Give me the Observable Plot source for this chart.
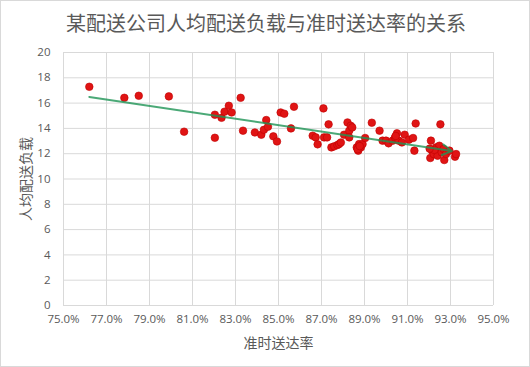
<!DOCTYPE html>
<html>
<head>
<meta charset="utf-8">
<script src="https://cdn.jsdelivr.net/npm/d3@7"></script>
<script src="https://cdn.jsdelivr.net/npm/@observablehq/plot@0.6"></script>
<style>
  html, body { margin: 0; padding: 0; background: #fff; }
  #chart { position: relative; width: 530px; height: 367px; box-sizing: border-box; border: 1px solid #d9d9d9; overflow: hidden; }
  #title { height: 41px; line-height: 44px; text-align: center; font-family: "Noto Sans CJK SC", sans-serif; font-size: 20px; color: #595959; padding-left: 2px; }
  svg { display: block; }
</style>
</head>
<body>
<div id="chart"><div id="title">某配送公司人均配送负载与准时送达率的关系</div></div>
<script>
const title = "某配送公司人均配送负载与准时送达率的关系";
const xLabel = "准时送达率";
const yLabel = "人均配送负载";
const xTicks = [75, 77, 79, 81, 83, 85, 87, 89, 91, 93, 95];
const yTicks = [0, 2, 4, 6, 8, 10, 12, 14, 16, 18, 20];

// 准时送达率 (%)
const onTimeRate = [
  76.2, 77.83, 78.5, 79.9, 80.61, 82.04, 82.04, 82.35, 82.49, 82.69,
  82.82, 83.24, 83.35, 83.9, 84.2, 84.32, 84.43, 84.51, 84.76, 84.93,
  85.1, 85.27, 85.58, 85.72, 86.59, 86.73, 86.82, 87.09, 87.12, 87.26,
  87.33, 87.46, 87.59, 87.74, 87.82, 87.9, 88.05, 88.21, 88.29, 88.36,
  88.43, 88.29, 88.64, 88.71, 88.75, 88.83, 88.91, 89.03, 89.34, 89.7,
  89.84, 90.0, 90.12, 90.31, 90.42, 90.51, 90.59, 90.74, 90.87, 91.07,
  91.26, 91.32, 91.38, 92.09, 92.06, 92.14, 92.22, 92.33, 92.4, 92.48,
  92.53, 92.59, 92.68, 92.71, 92.79, 92.95, 93.21, 93.26, 92.25, 92.03,
  88.68, 88.78, 90.45
];
// 人均配送负载
const loadPerPerson = [
  17.29, 16.42, 16.58, 16.53, 13.74, 15.08, 13.26, 14.84, 15.32, 15.79,
  15.26, 16.42, 13.82, 13.68, 13.5, 13.89, 14.66, 14.13, 13.37, 12.97,
  15.26, 15.16, 14.0, 15.71, 13.42, 13.29, 12.74, 15.58, 13.29, 13.29,
  14.32, 12.5, 12.58, 12.68, 12.76, 12.89, 13.5, 14.47, 13.82, 14.21,
  14.08, 13.29, 12.5, 12.24, 12.76, 12.5, 12.76, 13.24, 14.45, 13.82,
  13.03, 13.03, 12.82, 13.03, 13.29, 13.61, 13.03, 12.89, 13.5, 13.11,
  13.24, 12.24, 14.39, 13.03, 11.66, 12.24, 11.97, 12.5, 11.84, 12.63,
  14.32, 12.11, 12.37, 11.5, 11.97, 12.24, 11.76, 11.97, 12.3, 12.4,
  12.35, 12.6, 13.4
];

const data = onTimeRate.map((x, i) => ({x, y: loadPerPerson[i]}));

// linear regression trend line (computed from the data)
const mx = d3.mean(data, d => d.x), my = d3.mean(data, d => d.y);
const slope = d3.sum(data, d => (d.x - mx) * (d.y - my)) / d3.sum(data, d => (d.x - mx) ** 2);
const icpt = my - slope * mx;
const x0 = d3.min(onTimeRate), x1 = d3.max(onTimeRate) - 0.2;
const trend = [{x1: x0, y1: icpt + slope * x0, x2: x1, y2: icpt + slope * x1}];

const font = "'Open Sans', 'Noto Sans CJK SC', sans-serif";
const plot = Plot.plot({
  width: 528,
  height: 324,
  marginTop: 10,
  marginBottom: 61,
  marginLeft: 62,
  marginRight: 36,
  style: {fontFamily: font, fontSize: "11.5px", color: "#595959", background: "#fff"},
  x: {domain: [75, 95], ticks: xTicks, tickFormat: d => d.toFixed(1) + "%", tickSize: 0, tickPadding: 9, label: null},
  y: {domain: [0, 20], ticks: yTicks, tickSize: 0, tickPadding: 13, label: null},
  marks: [
    Plot.gridX(xTicks, {stroke: "#d9d9d9", strokeOpacity: 1}),
    Plot.gridY(yTicks, {stroke: "#d9d9d9", strokeOpacity: 1}),
    Plot.axisX({ticks: xTicks, tickFormat: d => d.toFixed(1) + "%", tickSize: 0, tickPadding: 9, fill: "#595959", label: null}),
    Plot.axisY({ticks: yTicks, tickSize: 0, tickPadding: 13, fill: "#595959", label: null}),
    Plot.dot(data, {x: "x", y: "y", r: 3.8, fill: "#e01414", stroke: "#c00000", strokeWidth: 0.6}),
    Plot.arrow(trend, {x1: "x1", y1: "y1", x2: "x2", y2: "y2", stroke: "#1e9455", strokeWidth: 2, strokeOpacity: 0.8, headLength: 8}),
    Plot.text([xLabel], {frameAnchor: "bottom", dy: 42, text: d => d, fontSize: 14, fill: "#595959", fontFamily: "'Noto Sans CJK SC', sans-serif"}),
    Plot.text([yLabel], {frameAnchor: "left", dx: -37, rotate: -90, textAnchor: "middle", text: d => d, fontSize: 14, fill: "#595959", fontFamily: "'Noto Sans CJK SC', sans-serif"})
  ]
});
document.getElementById("chart").appendChild(plot);
</script>
</body>
</html>
